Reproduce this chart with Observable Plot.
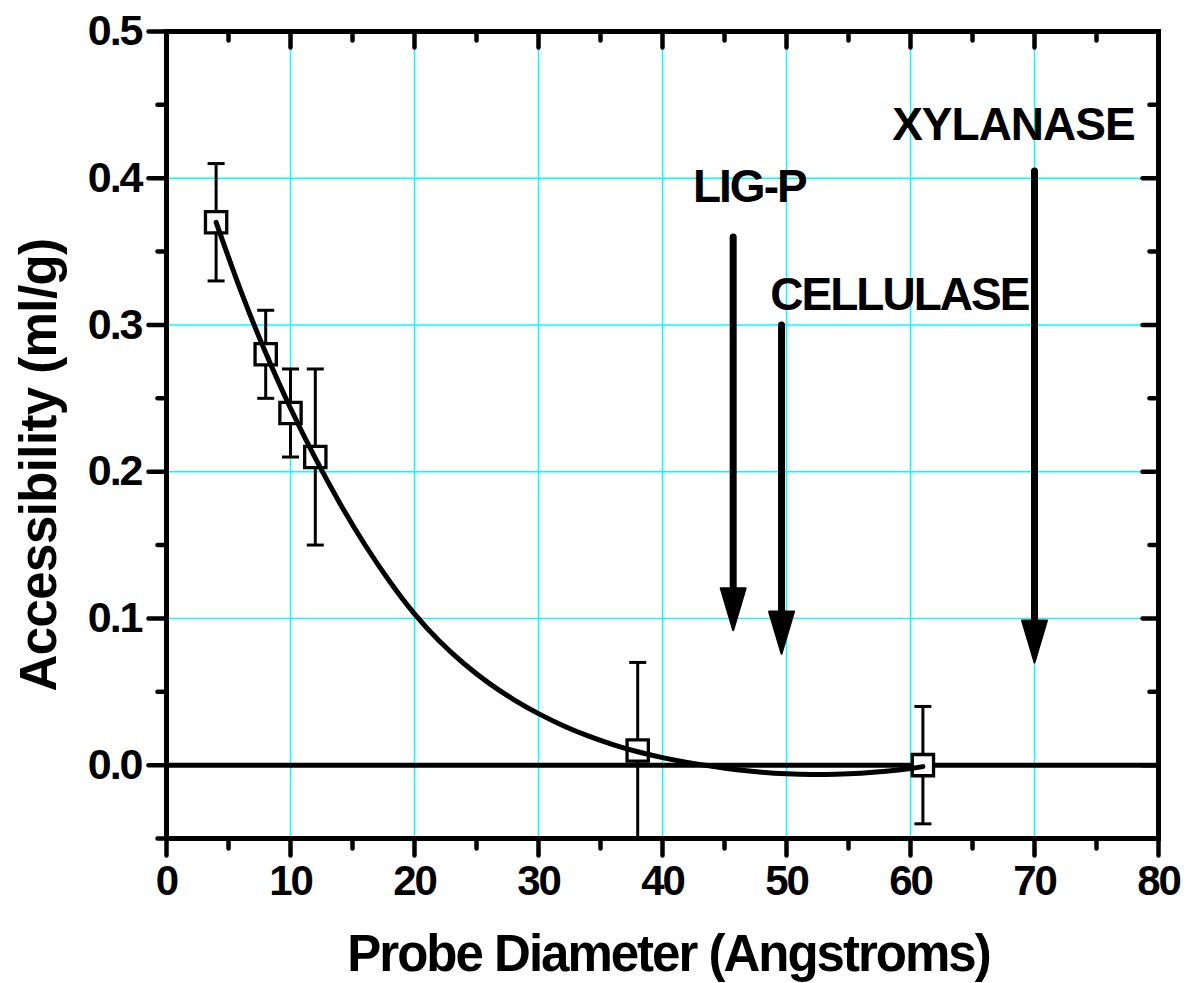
<!DOCTYPE html>
<html>
<head>
<meta charset="utf-8">
<script src="https://cdn.jsdelivr.net/npm/d3@7"></script>
<script src="https://cdn.jsdelivr.net/npm/@observablehq/plot@0.6"></script>
<style>
  html, body { margin: 0; padding: 0; background: #ffffff; }
  #chart svg { display: block; }
</style>
</head>
<body>
<div id="chart"></div>
<script>
// ---- Measured data ----
const probeDiameter = [4, 8, 10, 12, 38, 61];
const accessibility = [0.37, 0.28, 0.24, 0.21, 0.01, 0.0];
const errLow  = [0.33, 0.25, 0.21, 0.15, -0.05, -0.04];
const errHigh = [0.41, 0.31, 0.27, 0.27, 0.07, 0.04];

// ---- Fitted curve ----
const fitX = [4, 6, 8, 10, 12, 14, 16, 18, 20, 22, 24, 26, 28, 30, 32, 34, 36, 38, 40, 42, 44, 46, 48, 50, 52, 54, 56, 58, 60, 61];
const fitY = [0.370, 0.323, 0.281, 0.2432, 0.2092, 0.1782, 0.1502, 0.1252, 0.1031, 0.0846, 0.0691, 0.0559, 0.0447, 0.0351, 0.0269, 0.0199, 0.0140, 0.0091, 0.0051, 0.0019, -0.0008, -0.0031, -0.0048, -0.0059, -0.0064, -0.0062, -0.0055, -0.0042, -0.0023, -0.0010];

// ---- Enzyme annotations ----
const enzymeNames = ["LIG-P", "CELLULASE", "XYLANASE"];
const arrowX   = [45.7, 49.6, 70];
const arrowTop = [0.36, 0.30, 0.405];
const arrowTip = [0.092, 0.076, 0.070];
const labelX   = [47.0, 59.1, 68.3];
const labelY   = [0.384, 0.310, 0.426];

// ---- Axis ticks ----
const xMajor = [0, 10, 20, 30, 40, 50, 60, 70, 80];
const xMinor = [5, 15, 25, 35, 45, 55, 65, 75];
const yMajor = [0.0, 0.1, 0.2, 0.3, 0.4, 0.5];
const yMinor = [-0.05, 0.05, 0.15, 0.25, 0.35, 0.45];
const xGrid = [10, 20, 30, 40, 50, 60, 70];
const yGrid = [0.1, 0.2, 0.3, 0.4];
const xTitle = "Probe Diameter (Angstroms)";
const yTitle = "Accessibility (ml/g)";

const points = probeDiameter.map((x, i) => ({x, y: accessibility[i], lo: errLow[i], hi: errHigh[i]}));
const fit = fitX.map((x, i) => ({x, y: fitY[i]}));
const enzymes = enzymeNames.map((name, i) => ({name, x: arrowX[i], top: arrowTop[i], tip: arrowTip[i], lx: labelX[i], ly: labelY[i]}));

// custom symbols (pixel-based shapes)
const tickDown = len => ({draw(c) { c.moveTo(0, 0); c.lineTo(0, len); }});
const tickLeft = len => ({draw(c) { c.moveTo(0, 0); c.lineTo(-len, 0); }});
const capSym = {draw(c) { c.moveTo(-8.5, 0); c.lineTo(8.5, 0); }};
const headSym = {draw(c) { c.moveTo(0, 0); c.lineTo(-12.5, -42); c.lineTo(12.5, -42); c.closePath(); }};

const tickStyle = {fill: "none", stroke: "black", strokeWidth: 4.5, strokeLinecap: "round"};

const chart = Plot.plot({
  width: 1189,
  height: 983,
  marginLeft: 166,
  marginRight: 31,
  marginTop: 31,
  marginBottom: 145,
  style: {fontFamily: "'Liberation Sans', Arial, Helvetica, sans-serif", letterSpacing: "-2px", background: "white", color: "black"},
  x: {type: "linear", domain: [0, 80]},
  y: {type: "linear", domain: [-0.05, 0.5]},
  marks: [
    // grid
    Plot.ruleX(xGrid, {x: d => d, stroke: "#00ffff", strokeWidth: 1.4}),
    Plot.ruleY(yGrid, {y: d => d, stroke: "#00ffff", strokeWidth: 1.4}),
    // zero line
    Plot.ruleY([0], {y: d => d, stroke: "black", strokeWidth: 5}),
    // ticks: bottom & left outward, top & right inward
    Plot.dot(xMajor, {x: d => d, frameAnchor: "bottom", symbol: tickDown(17), ...tickStyle}),
    Plot.dot(xMinor, {x: d => d, frameAnchor: "bottom", symbol: tickDown(10), ...tickStyle}),
    Plot.dot(xMajor, {x: d => d, frameAnchor: "top", symbol: tickDown(16), ...tickStyle}),
    Plot.dot(xMinor, {x: d => d, frameAnchor: "top", symbol: tickDown(9), ...tickStyle}),
    Plot.dot(yMajor, {y: d => d, frameAnchor: "left", symbol: tickLeft(18), ...tickStyle}),
    Plot.dot(yMinor, {y: d => d, frameAnchor: "left", symbol: tickLeft(9), ...tickStyle}),
    Plot.dot(yMajor, {y: d => d, frameAnchor: "right", symbol: tickLeft(16), ...tickStyle}),
    Plot.dot(yMinor, {y: d => d, frameAnchor: "right", symbol: tickLeft(9), ...tickStyle}),
    // frame
    Plot.frame({stroke: "black", strokeWidth: 5}),
    // tick labels
    Plot.axisX(xMajor, {anchor: "bottom", tickSize: 0, tickPadding: 27, fontSize: 42, fontWeight: "bold", label: null, tickFormat: d => String(d)}),
    Plot.axisY(yMajor, {anchor: "left", tickSize: 0, tickPadding: 25, fontSize: 43, fontWeight: "bold", label: null, tickFormat: d3.format(".1f")}),
    // axis titles
    Plot.text([xTitle], {text: d => d, frameAnchor: "bottom", dy: 132, dx: 6, lineAnchor: "bottom", fontSize: 51, fontWeight: "bold", fill: "black"}),
    Plot.text([yTitle], {text: d => d, frameAnchor: "left", rotate: -90, dx: -111, dy: 30, lineAnchor: "bottom", textAnchor: "middle", fontSize: 51, fontWeight: "bold", fill: "black"}),
    // error bars
    Plot.ruleX(points, {x: "x", y1: "lo", y2: "hi", stroke: "black", strokeWidth: 3}),
    Plot.dot(points, {x: "x", y: "hi", symbol: capSym, fill: "none", stroke: "black", strokeWidth: 3}),
    Plot.dot(points, {x: "x", y: "lo", symbol: capSym, fill: "none", stroke: "black", strokeWidth: 3}),
    // markers
    Plot.dot(points, {x: "x", y: "y", symbol: "square", r: 12, fill: "white", stroke: "black", strokeWidth: 3.3}),
    // fitted curve
    Plot.line(fit, {x: "x", y: "y", curve: "natural", stroke: "black", strokeWidth: 5, strokeLinecap: "round"}),
    // enzyme arrows
    Plot.arrow(enzymes, {x: "x", y1: "top", y2: "tip", headLength: 0, insetEnd: 30, stroke: "black", strokeWidth: 7, strokeLinecap: "round"}),
    Plot.dot(enzymes, {x: "x", y: "tip", symbol: headSym, fill: "black", stroke: "black", strokeWidth: 2, strokeLinejoin: "round"}),
    Plot.text(enzymes, {x: "lx", y: "ly", text: "name", lineAnchor: "bottom", textAnchor: "middle", fontSize: 46, fontWeight: "bold", fill: "black"})
  ]
});
// fine-tune letter spacing of a couple of texts
d3.select(chart).selectAll("text").each(function() {
  const t = this.textContent;
  if (t === yTitle) this.style.letterSpacing = "-0.6px";
  if (t === "XYLANASE") this.style.letterSpacing = "-1px";
});
document.getElementById("chart").appendChild(chart);
</script>
</body>
</html>
